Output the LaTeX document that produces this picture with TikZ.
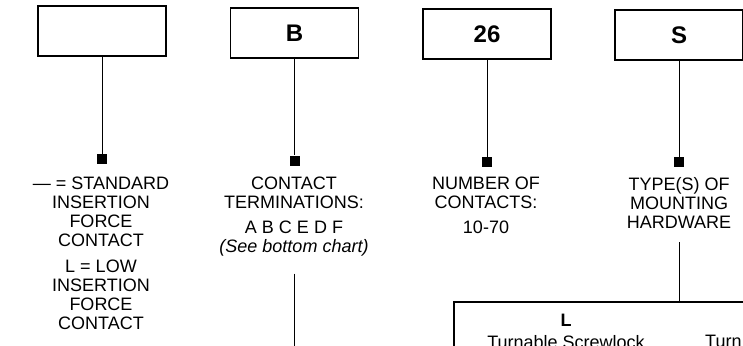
\documentclass[tikz,border=0pt]{standalone}
\usepackage{fontspec}
\setmainfont{Liberation Sans}
\usetikzlibrary{positioning}

\begin{document}
\begin{tikzpicture}[x=1pt, y=-1pt,
codebox/.style={draw, line width=1.4pt, minimum width=128pt, minimum height=50pt, inner sep=0pt, font=\fontsize{24}{26}\selectfont\bfseries},
marker/.style={fill, minimum size=10pt, inner sep=0pt},
caption/.style={align=center, inner sep=0pt, anchor=north, font=\fontsize{18}{19}\selectfont}
]
\useasboundingbox (0,0) rectangle (743,345);
\clip (0,0) rectangle (743,345);

% code fields
\node[codebox] (b1) at (102,31)  {};
\node[codebox] (b2) at (294.5,33){B};
\node[codebox] (b3) at (487,34)  {26};
\node[codebox] (b4) at (679,35)  {S};

\node[marker] (m1) at (102,159)   {};
\node[marker] (m2) at (294.5,160.5){};
\node[marker] (m3) at (487,162)   {};
\node[marker] (m4) at (679,162)   {};

\begin{scope}[line width=0.9pt]
\draw (b1.south) -- (m1.north);
\draw (b2.south) -- (m2.north);
\draw (b3.south) -- (m3.north);
\draw (b4.south) -- (m4.north);
\end{scope}

% meanings
\node[caption] (c1) at (101,177) {— = STANDARD\\INSERTION\\FORCE\\CONTACT\\[7pt]L = LOW\\INSERTION\\FORCE\\CONTACT};
\node[caption] (c2) at (294,177) {CONTACT\\TERMINATIONS:\\[6pt]A B C E D F\\{\itshape (See bottom chart)}};
\node[caption] (c3) at (486,177) {NUMBER OF\\CONTACTS:\\[6pt]10-70};
\node[caption] (c4) at (679,177) {TYPE(S) OF\\MOUNTING\\HARDWARE};

% hardware chart
\node[draw, line width=1.6pt, anchor=north west, minimum width=400pt, minimum height=120pt] (chart) at (453,301) {};
\node[font=\fontsize{18}{19}\selectfont\bfseries] (hl) at (566,320) {L};
\node[caption] (h1) at (566,335) {Turnable Screwlock};
\node[caption, anchor=north west] (h2) at (705,335) {Turn};

\coordinate (c2end) at (293,350);
\begin{scope}[line width=0.9pt]
\draw[shorten <=17pt] (c2.south) -- (c2.south |- c2end);
\draw[shorten <=14pt] (c4.south) -- (c4.south |- chart.north);
\end{scope}

\end{tikzpicture}
\end{document}
